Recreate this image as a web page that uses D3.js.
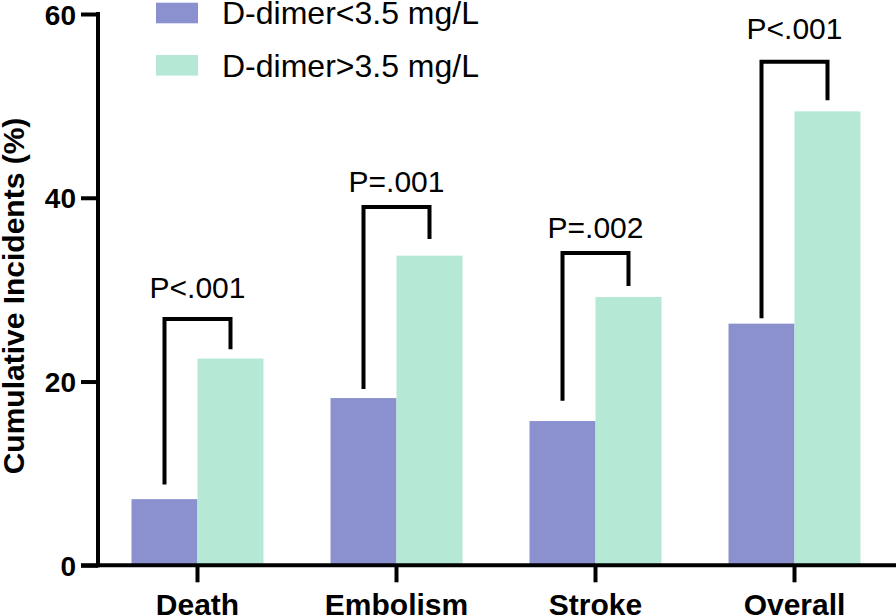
<!DOCTYPE html>
<html><head><meta charset="utf-8">
<script src="https://cdn.jsdelivr.net/npm/d3@7"></script>
<style>
html,body{margin:0;padding:0;background:#fff;}
svg{display:block;}
text{font-family:"Liberation Sans",Arial,Helvetica,sans-serif;fill:#000;}
</style></head>
<body>
<svg id="chart" width="896" height="615"></svg>
<script>
const categories = ["Death", "Embolism", "Stroke", "Overall"];
const seriesNames = ["D-dimer<3.5 mg/L", "D-dimer>3.5 mg/L"];
const lowValues = [7.2, 18.2, 15.7, 26.3];
const highValues = [22.5, 33.7, 29.2, 49.4];
const pLabels = ["P<.001", "P=.001", "P=.002", "P<.001"];
const bracketTop = [26.8, 39.0, 34.0, 54.8];
const bracketLowEnd = [8.8, 19.2, 17.9, 26.9];
const bracketHighEnd = [23.5, 35.5, 30.4, 50.6];
const pLabelY = [29.1, 40.6, 35.6, 57.3];
const yTicks = [0, 20, 40, 60];
const colors = ["#8b91cf", "#b5e9d6"];

const svg = d3.select("#chart");
const y = d3.scaleLinear().domain([0, 60]).range([565.3, 14]);
const x0 = d3.scaleBand().domain(categories).range([98, 894]).paddingInner(0.3367).paddingOuter(0.3367/2);
const x1 = d3.scaleBand().domain([0, 1]).range([0, x0.bandwidth()]);

// bars
const groups = svg.append("g").selectAll("g").data(categories).join("g")
  .attr("transform", d => `translate(${x0(d)},0)`);
groups.selectAll("rect").data((d, i) => [lowValues[i], highValues[i]]).join("rect")
  .attr("x", (d, j) => x1(j))
  .attr("width", x1.bandwidth())
  .attr("y", d => y(d))
  .attr("height", d => y(0) - y(d))
  .attr("fill", (d, j) => colors[j]);

// brackets
categories.forEach((c, i) => {
  const xl = x0(c) + x1(0) + x1.bandwidth() / 2;
  const xr = x0(c) + x1(1) + x1.bandwidth() / 2;
  svg.append("path")
    .attr("d", `M${xl},${y(bracketLowEnd[i])}V${y(bracketTop[i])}H${xr}V${y(bracketHighEnd[i])}`)
    .attr("fill", "none").attr("stroke", "#000").attr("stroke-width", 4);
  svg.append("text")
    .attr("x", x0(c) + x0.bandwidth() / 2)
    .attr("y", y(pLabelY[i]))
    .attr("text-anchor", "middle")
    .style("font-size", "30px")
    .text(pLabels[i]);
});

// y axis
const yAxis = svg.append("g").attr("transform", "translate(98,0)")
  .call(d3.axisLeft(y).tickValues(yTicks).tickSize(17).tickPadding(5).tickSizeOuter(0));
yAxis.select(".domain").attr("stroke-width", 4).attr("d", `M0,${y(0)+2}V${y(60)-2}`);
yAxis.selectAll(".tick line").attr("stroke-width", 4);
yAxis.selectAll(".tick text").style("font-size", "28px").style("font-weight", "bold")
  .style("font-family", '"Liberation Sans",Arial,sans-serif').attr("dy", "0.36em");

// x axis
const xAxis = svg.append("g").attr("transform", `translate(0,${y(0)})`)
  .call(d3.axisBottom(x0).tickSize(17).tickPadding(11).tickSizeOuter(0));
xAxis.select(".domain").attr("stroke-width", 4).attr("d", "M81,0H896");
xAxis.selectAll(".tick line").attr("stroke-width", 4);
xAxis.selectAll(".tick text").style("font-size", "30px").style("font-weight", "bold")
  .style("font-family", '"Liberation Sans",Arial,sans-serif');

// y title
svg.append("text")
  .attr("transform", "translate(24,296) rotate(-90)")
  .attr("text-anchor", "middle")
  .style("font-size", "30px").style("font-weight", "bold")
  .text("Cumulative Incidents (%)");

// legend
const legend = svg.append("g").selectAll("g").data(seriesNames).join("g")
  .attr("transform", (d, i) => `translate(156,${2.7 + i * 52.3})`);
legend.append("rect").attr("width", 42).attr("height", 20.6).attr("fill", (d, i) => colors[i]);
legend.append("text").attr("x", 66).attr("y", 21.5).style("font-size", "32px").text(d => d);
</script>
</body></html>
